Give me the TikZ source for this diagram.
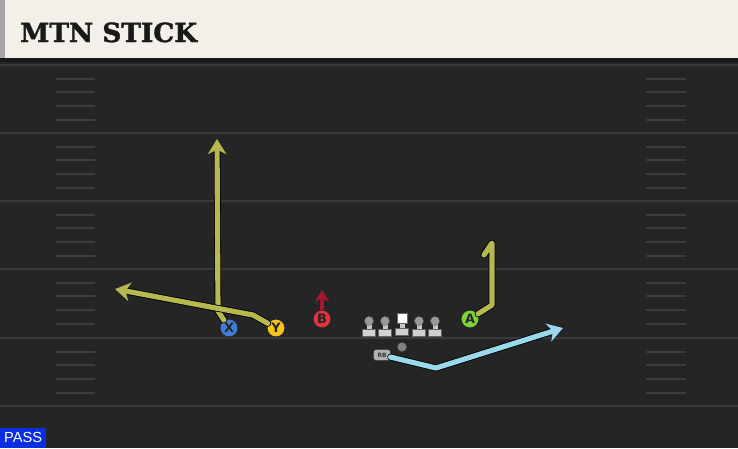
\documentclass[tikz,border=0pt]{standalone}
\usepackage{fontspec}
\setmainfont{DejaVu Sans}
\newfontfamily\titlefont[BoldFeatures={FakeBold=1.5}]{DejaVu Serif}
\newfontfamily\passfont{Liberation Sans}
\usetikzlibrary{arrows.meta}
\definecolor{turf}{HTML}{252525}
\definecolor{yardline}{HTML}{3A3A3A}
\definecolor{hashline}{HTML}{3D3D3D}
\definecolor{cream}{HTML}{F3F0E9}
\definecolor{olive}{HTML}{B8B850}
\definecolor{skyroute}{HTML}{9AD8EC}
\definecolor{blockred}{HTML}{A3182F}
\definecolor{xblue}{HTML}{3F7FD9}
\definecolor{yyellow}{HTML}{F4C51C}
\definecolor{bred}{HTML}{E2343F}
\definecolor{agreen}{HTML}{7CD33A}
\definecolor{passblue}{HTML}{0A2EE0}
\tikzstyle{player}=[circle, draw=black!85, line width=0.8pt, minimum size=0.54cm, inner sep=0pt, text=black!85, font=\bfseries\fontsize{11}{11}\selectfont]
\tikzstyle{route}=[line width=4.4pt, line join=round, line cap=round, draw=olive, preaction={draw=black, line width=5.8pt, line join=round, line cap=round}]
\tikzstyle{tip}=[-{Stealth[length=13pt, width=16pt, inset=4pt]}]
\tikzstyle{linebase}=[rectangle, fill=black!18, draw=black!60, line width=0.3pt, minimum width=0.4cm, minimum height=0.2cm, inner sep=0pt]
\tikzstyle{linehead}=[circle, fill=black!40, draw=black!60, line width=0.3pt, minimum size=0.27cm, inner sep=0pt]

\begin{document}
\begin{tikzpicture}[x=0.03cm, y=-0.03cm]
  \useasboundingbox (0,0) rectangle (738,448);
  % field
  \fill[turf] (0,0) rectangle (738,448);
  \foreach \y in {65,133,201,269,338,406}
    \draw[yardline, line width=1.8pt] (0,\y) -- (738,\y);
  \foreach \y in {65,133,201,269,338}
    \foreach \d in {14,27,41,55} {
      \draw[hashline, line width=1.3pt] (56,\y+\d) -- (95,\y+\d);
      \draw[hashline, line width=1.3pt] (646,\y+\d) -- (686,\y+\d);
    }
  % header
  \fill[black!90] (0,58) rectangle (738,62);
  \fill[cream] (0,0) rectangle (738,58);
  \fill[black!35] (0,0) rectangle (5,58);
  \node (title) at (20,42)[anchor=base west, inner sep=0pt, text=black!90, font=\titlefont\bfseries\fontsize{22.5}{22.5}\selectfont] {MTN STICK};
  \node (pass) at (0,448)[anchor=south west, fill=passblue, minimum width=1.38cm, minimum height=0.6cm, inner sep=0pt, text=white, font=\passfont\fontsize{12.5}{12.5}\selectfont] {PASS};
  % players
  \begin{scope}
    \node (X) at (229,328)[player, fill=xblue] {X};
    \node (Y) at (276,328)[player, fill=yyellow] {Y};
    \node (B) at (322,319)[player, fill=bred] {B};
    \node (A) at (470,319)[player, fill=agreen] {A};
    \node (QB) at (402,347)[circle, fill=black!50, draw=black!70, minimum size=0.28cm, inner sep=0pt] {};
    \node (RB) at (382,355)[rectangle, rounded corners=1.5pt, fill=black!30, draw=black!75, line width=0.4pt, minimum width=0.5cm, minimum height=0.32cm, inner sep=0pt, text=black!80, font=\bfseries\fontsize{5}{5}\selectfont] {RB};
  \end{scope}
  % offensive line
  \begin{scope}
    \foreach \x [count=\i] in {369,385,419,435} {
      \fill[black!22] (\x-2.5,322) rectangle (\x+2.5,331);
      \node (base\i) at (\x,333)[linebase] {};
      \node (head\i) at (\x,321)[linehead] {};
    }
    \fill[black!22] (399.5,322) rectangle (404.5,331);
    \node (cbase) at (402,332)[linebase] {};
    \node (center) at (402,318)[rectangle, fill=white, draw=black!60, line width=0.3pt, minimum width=0.29cm, minimum height=0.31cm, inner sep=0pt] {};
  \end{scope}
  % routes
  \begin{scope}
    \coordinate (xbend) at (218,311);
    \coordinate (xend) at (217,139);
    \coordinate (ybend) at (253,315);
    \coordinate (yend) at (115,289);
    \coordinate (abend) at (492,305);
    \coordinate (atop) at (492,243);
    \coordinate (ahook) at (484,255);
    \coordinate (rbbend) at (436,368);
    \coordinate (rbend) at (563,328);
    \coordinate (bend) at (322,290);
    \draw[route, tip] (X) -- (xbend) -- (xend);
    \draw[route, tip] (Y) -- (ybend) -- (yend);
    \draw[route] (A) -- (abend) -- (atop) -- (ahook);
    \draw[route, draw=skyroute, tip] (RB) -- (rbbend) -- (rbend);
    \draw[line width=3.2pt, blockred, -{Stealth[length=10pt, width=12pt, inset=3pt]}] (B) -- (bend);
  \end{scope}
\end{tikzpicture}
\end{document}
